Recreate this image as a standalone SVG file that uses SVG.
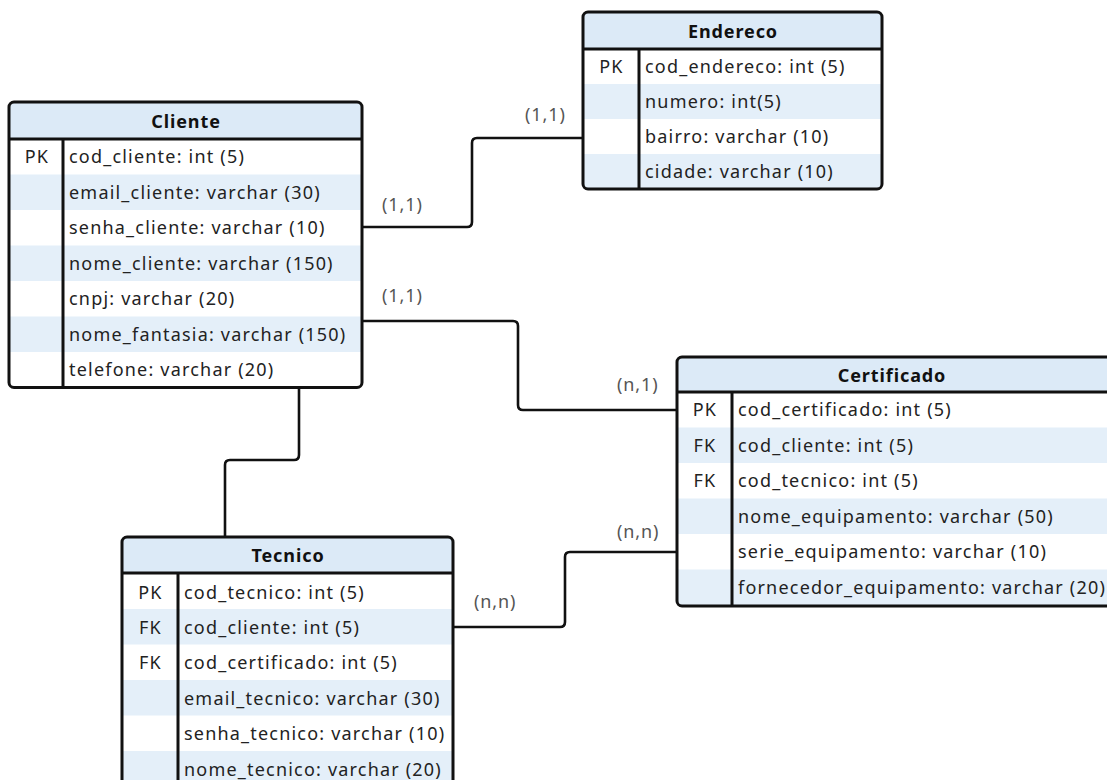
<svg xmlns="http://www.w3.org/2000/svg" width="1107" height="780" viewBox="0 0 1107 780">
  <style>
    .frame { fill: none; stroke: #111; stroke-width: 3; }
    .hdr { fill: #dceaf7; }
    .alt { fill: #e4eff9; }
    .bg { fill: #ffffff; }
    .sep { stroke: #111; stroke-width: 3; }
    .title { font-family: "Noto Sans", "Open Sans", sans-serif; font-size: 18px; letter-spacing: 0.9px; font-weight: bold; fill: #111; text-anchor: middle; }
    .key { font-family: "Noto Sans", "Open Sans", sans-serif; font-size: 18px; letter-spacing: 1.2px; fill: #222; text-anchor: middle; }
    .field { font-family: "Noto Sans", "Open Sans", sans-serif; font-size: 18px; letter-spacing: 1.2px; fill: #222; }
    .card { font-family: "Noto Sans", "Open Sans", sans-serif; font-size: 18px; letter-spacing: 0.9px; fill: #555; }
    .link { fill: none; stroke: #111; stroke-width: 2.6; stroke-linejoin: round; }
  </style>
  <defs>
    <clipPath id="clipCliente"><rect x="9" y="102" width="353" height="285.5" rx="5"/></clipPath>
    <clipPath id="clipEndereco"><rect x="583" y="12" width="299" height="177" rx="5"/></clipPath>
    <clipPath id="clipCertificado"><rect x="677" y="357" width="440" height="249" rx="5"/></clipPath>
    <clipPath id="clipTecnico"><rect x="122" y="537" width="331" height="270" rx="5"/></clipPath>
  </defs>

  <rect x="0" y="0" width="1107" height="780" fill="#ffffff"/>

  <!-- relationship lines -->
  <g id="connectors">
    <path class="link" d="M362,227 H467 Q472,227 472,222 V143 Q472,138 477,138 H583"/>
    <path class="link" d="M362,321 H513 Q518,321 518,326 V405 Q518,410 523,410 H677"/>
    <path class="link" d="M299,387 V455 Q299,460 294,460 H230 Q225,460 225,465 V537"/>
    <path class="link" d="M453,627 H560 Q565,627 565,622 V557 Q565,552 570,552 H677"/>
    <text class="card" x="382" y="211">(1,1)</text>
    <text class="card" x="525" y="121">(1,1)</text>
    <text class="card" x="382" y="302">(1,1)</text>
    <text class="card" x="617" y="391">(n,1)</text>
    <text class="card" x="474" y="608">(n,n)</text>
    <text class="card" x="617" y="538">(n,n)</text>
  </g>

  <!-- Cliente -->
  <g id="cliente">
    <g clip-path="url(#clipCliente)">
      <rect class="bg" x="9" y="102" width="353" height="286"/>
      <rect class="hdr" x="9" y="102" width="353" height="37"/>
      <rect class="alt" x="9" y="174.5" width="353" height="35.5"/>
      <rect class="alt" x="9" y="245.5" width="353" height="35.5"/>
      <rect class="alt" x="9" y="316.5" width="353" height="35.5"/>
    </g>
    <line class="sep" x1="9" y1="139" x2="362" y2="139"/>
    <line class="sep" x1="63" y1="139" x2="63" y2="387.5"/>
    <rect class="frame" x="9" y="102" width="353" height="285.5" rx="5"/>
    <text class="title" x="186" y="128">Cliente</text>
    <text class="key" x="37" y="163">PK</text>
    <text class="field" x="69" y="163">cod_cliente: int (5)</text>
    <text class="field" x="69" y="198.5">email_cliente: varchar (30)</text>
    <text class="field" x="69" y="234">senha_cliente: varchar (10)</text>
    <text class="field" x="69" y="269.5">nome_cliente: varchar (150)</text>
    <text class="field" x="69" y="305">cnpj: varchar (20)</text>
    <text class="field" x="69" y="340.5">nome_fantasia: varchar (150)</text>
    <text class="field" x="69" y="376">telefone: varchar (20)</text>
  </g>

  <!-- Endereco -->
  <g id="endereco">
    <g clip-path="url(#clipEndereco)">
      <rect class="bg" x="583" y="12" width="299" height="177"/>
      <rect class="hdr" x="583" y="12" width="299" height="37"/>
      <rect class="alt" x="583" y="84" width="299" height="35"/>
      <rect class="alt" x="583" y="154" width="299" height="35"/>
    </g>
    <line class="sep" x1="583" y1="49" x2="882" y2="49"/>
    <line class="sep" x1="639" y1="49" x2="639" y2="189"/>
    <rect class="frame" x="583" y="12" width="299" height="177" rx="5"/>
    <text class="title" x="733" y="38">Endereco</text>
    <text class="key" x="611.5" y="73">PK</text>
    <text class="field" x="645" y="73">cod_endereco: int (5)</text>
    <text class="field" x="645" y="108">numero: int(5)</text>
    <text class="field" x="645" y="143">bairro: varchar (10)</text>
    <text class="field" x="645" y="178">cidade: varchar (10)</text>
  </g>

  <!-- Certificado -->
  <g id="certificado">
    <g clip-path="url(#clipCertificado)">
      <rect class="bg" x="677" y="357" width="440" height="249"/>
      <rect class="hdr" x="677" y="357" width="440" height="35"/>
      <rect class="alt" x="677" y="427.5" width="440" height="35.5"/>
      <rect class="alt" x="677" y="498.5" width="440" height="35.5"/>
      <rect class="alt" x="677" y="569.5" width="440" height="36.5"/>
    </g>
    <line class="sep" x1="677" y1="392" x2="1117" y2="392"/>
    <line class="sep" x1="732" y1="392" x2="732" y2="606"/>
    <rect class="frame" x="677" y="357" width="440" height="249" rx="5"/>
    <text class="title" x="892" y="382">Certificado</text>
    <text class="key" x="705" y="416">PK</text>
    <text class="field" x="738" y="416">cod_certificado: int (5)</text>
    <text class="key" x="705" y="451.5">FK</text>
    <text class="field" x="738" y="451.5">cod_cliente: int (5)</text>
    <text class="key" x="705" y="487">FK</text>
    <text class="field" x="738" y="487">cod_tecnico: int (5)</text>
    <text class="field" x="738" y="522.5">nome_equipamento: varchar (50)</text>
    <text class="field" x="738" y="558">serie_equipamento: varchar (10)</text>
    <text class="field" x="738" y="593.5">fornecedor_equipamento: varchar (20)</text>
  </g>

  <!-- Tecnico -->
  <g id="tecnico">
    <g clip-path="url(#clipTecnico)">
      <rect class="bg" x="122" y="537" width="331" height="270"/>
      <rect class="hdr" x="122" y="537" width="331" height="36"/>
      <rect class="alt" x="122" y="609" width="331" height="35.5"/>
      <rect class="alt" x="122" y="680" width="331" height="35.5"/>
      <rect class="alt" x="122" y="751" width="331" height="35.5"/>
    </g>
    <line class="sep" x1="122" y1="573" x2="453" y2="573"/>
    <line class="sep" x1="178" y1="573" x2="178" y2="807"/>
    <rect class="frame" x="122" y="537" width="331" height="270" rx="5"/>
    <text class="title" x="288" y="562">Tecnico</text>
    <text class="key" x="150.5" y="599">PK</text>
    <text class="field" x="184" y="599">cod_tecnico: int (5)</text>
    <text class="key" x="150.5" y="634">FK</text>
    <text class="field" x="184" y="634">cod_cliente: int (5)</text>
    <text class="key" x="150.5" y="669">FK</text>
    <text class="field" x="184" y="669">cod_certificado: int (5)</text>
    <text class="field" x="184" y="704.5">email_tecnico: varchar (30)</text>
    <text class="field" x="184" y="740">senha_tecnico: varchar (10)</text>
    <text class="field" x="184" y="775.5">nome_tecnico: varchar (20)</text>
  </g>
</svg>
